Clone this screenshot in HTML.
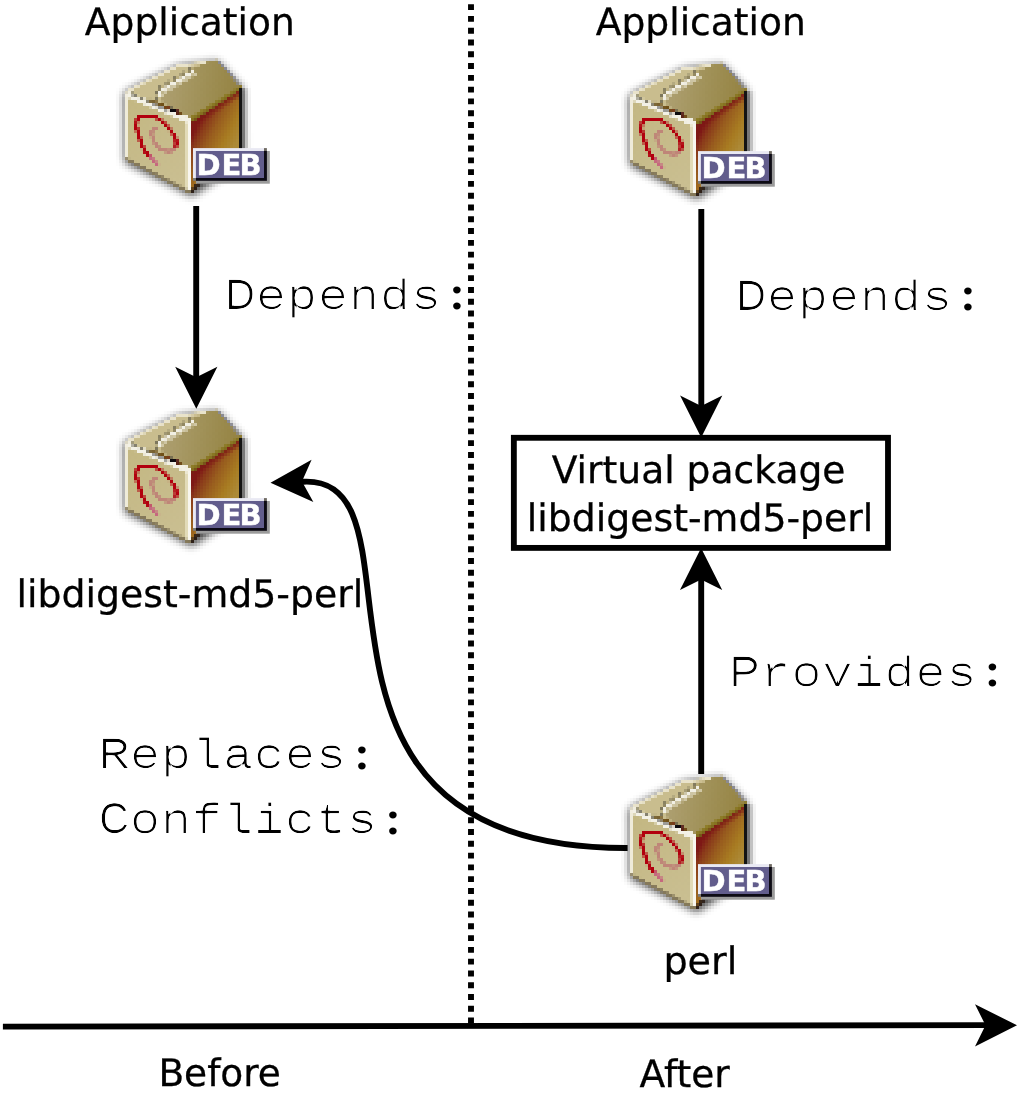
<!DOCTYPE html>
<html lang="en">
<head>
<meta charset="utf-8">
<title>Virtual package: libdigest-md5-perl before and after</title>
<style>
html,body{margin:0;padding:0;background:#fff;}
body{width:1024px;height:1094px;overflow:hidden;}
svg{display:block;will-change:transform;}
</style>
</head>
<body>
<svg width="1024" height="1094" viewBox="0 0 1024 1094">
<defs>
<filter id="sh" x="-20%" y="-20%" width="140%" height="140%"><feGaussianBlur stdDeviation="4"/><feOffset dx="0.4" dy="1.8"/></filter>
<filter id="px" filterUnits="userSpaceOnUse" x="113" y="49" width="165" height="156" color-interpolation-filters="sRGB">
<feGaussianBlur in="SourceGraphic" stdDeviation="0.7" result="avg"/>
<feFlood x="114" y="50" width="1" height="1" flood-color="#000" result="dot"/>
<feComposite in="dot" in2="dot" operator="over" x="113" y="49" width="3" height="3" result="cell"/>
<feTile in="cell" result="grid"/>
<feComposite in="avg" in2="grid" operator="in" result="samp"/>
<feMorphology in="samp" operator="dilate" radius="1" result="blocks"/>
<feGaussianBlur in="blocks" stdDeviation="0.4"/>
</filter>
<filter id="thin" x="-5%" y="-30%" width="110%" height="160%">
<feOffset in="SourceGraphic" dx="1" dy="0" result="a"/>
<feOffset in="SourceGraphic" dx="-1" dy="0" result="b"/>
<feComposite in="a" in2="b" operator="in" result="ab"/>
<feOffset in="ab" dx="0" dy="0.2" result="c"/>
<feOffset in="ab" dx="0" dy="-0.2" result="d"/>
<feComposite in="c" in2="d" operator="in"/>
</filter>
<linearGradient id="flap" gradientUnits="userSpaceOnUse" x1="165" y1="82" x2="238" y2="92">
<stop offset="0" stop-color="#ad9f70"/><stop offset="0.5" stop-color="#a09158"/><stop offset="1" stop-color="#958342"/></linearGradient>
<linearGradient id="olive" gradientUnits="userSpaceOnUse" x1="214" y1="101" x2="217.6" y2="106.6">
<stop offset="0" stop-color="#93822c"/><stop offset="0.55" stop-color="#857220"/><stop offset="1" stop-color="#6e4416"/></linearGradient>
<linearGradient id="side" gradientUnits="userSpaceOnUse" x1="192" y1="116" x2="238" y2="140">
<stop offset="0" stop-color="#7a1414"/><stop offset="0.17" stop-color="#7e1816"/><stop offset="0.3" stop-color="#8a3a1a"/><stop offset="0.5" stop-color="#985c1e"/><stop offset="0.78" stop-color="#a87c22"/><stop offset="1" stop-color="#ac8a38"/></linearGradient>
<linearGradient id="side2" gradientUnits="userSpaceOnUse" x1="215" y1="104.5" x2="220" y2="112">
<stop offset="0" stop-color="#7a1414" stop-opacity="0.95"/><stop offset="0.4" stop-color="#7c1614" stop-opacity="0.7"/><stop offset="1" stop-color="#861e18" stop-opacity="0"/></linearGradient>
<linearGradient id="edgesh" gradientUnits="userSpaceOnUse" x1="242" y1="0" x2="250" y2="0">
<stop offset="0" stop-color="#000" stop-opacity="0.4"/><stop offset="0.5" stop-color="#000" stop-opacity="0.12"/><stop offset="1" stop-color="#000" stop-opacity="0"/></linearGradient>
<linearGradient id="gap" gradientUnits="userSpaceOnUse" x1="150" y1="100.2" x2="181" y2="113.6">
<stop offset="0" stop-color="#7d6a3a"/><stop offset="0.45" stop-color="#6e4c12"/><stop offset="0.6" stop-color="#7a3a1a"/><stop offset="0.66" stop-color="#0c0c10"/><stop offset="0.8" stop-color="#100a0e"/><stop offset="0.86" stop-color="#4a0a10"/><stop offset="1" stop-color="#6e4c12"/></linearGradient>
<linearGradient id="front" gradientUnits="userSpaceOnUse" x1="128" y1="100" x2="188" y2="185">
<stop offset="0" stop-color="#c3b782"/><stop offset="1" stop-color="#cabf92"/></linearGradient>
</defs>
<rect x="0" y="0" width="1024" height="1094" fill="#fff"/>
<text x="84.80" y="34.60" font-family="'DejaVu Sans', 'Liberation Sans', sans-serif" font-size="37.90" fill="#000" stroke="#000" stroke-width="0.3" textLength="210.10" lengthAdjust="spacingAndGlyphs" text-rendering="geometricPrecision">Application</text>
<text x="595.70" y="34.60" font-family="'DejaVu Sans', 'Liberation Sans', sans-serif" font-size="37.90" fill="#000" stroke="#000" stroke-width="0.3" textLength="210.20" lengthAdjust="spacingAndGlyphs" text-rendering="geometricPrecision">Application</text>
<text x="16.60" y="606.60" font-family="'DejaVu Sans', 'Liberation Sans', sans-serif" font-size="37.90" fill="#000" stroke="#000" stroke-width="0.3" textLength="346.70" lengthAdjust="spacingAndGlyphs" text-rendering="geometricPrecision">libdigest-md5-perl</text>
<text x="551.70" y="482.60" font-family="'DejaVu Sans', 'Liberation Sans', sans-serif" font-size="37.90" fill="#000" stroke="#000" stroke-width="0.3" textLength="293.80" lengthAdjust="spacingAndGlyphs" text-rendering="geometricPrecision">Virtual package</text>
<text x="526.80" y="530.60" font-family="'DejaVu Sans', 'Liberation Sans', sans-serif" font-size="37.90" fill="#000" stroke="#000" stroke-width="0.3" textLength="346.50" lengthAdjust="spacingAndGlyphs" text-rendering="geometricPrecision">libdigest-md5-perl</text>
<text x="663.40" y="973.60" font-family="'DejaVu Sans', 'Liberation Sans', sans-serif" font-size="37.90" fill="#000" stroke="#000" stroke-width="0.3" textLength="74.00" lengthAdjust="spacingAndGlyphs" text-rendering="geometricPrecision">perl</text>
<text x="158.40" y="1085.60" font-family="'DejaVu Sans', 'Liberation Sans', sans-serif" font-size="37.90" fill="#000" stroke="#000" stroke-width="0.3" textLength="122.50" lengthAdjust="spacingAndGlyphs" text-rendering="geometricPrecision">Before</text>
<text x="639.50" y="1086.50" font-family="'DejaVu Sans', 'Liberation Sans', sans-serif" font-size="37.90" fill="#000" stroke="#000" stroke-width="0.3" textLength="90.30" lengthAdjust="spacingAndGlyphs" text-rendering="geometricPrecision">After</text>
<g filter="url(#thin)"><text transform="translate(224.50 308.90) scale(1.2126 1)" font-family="'Liberation Mono', 'DejaVu Sans Mono', monospace" font-size="42.60" fill="#000" text-rendering="geometricPrecision"><tspan font-size="44.73" dx="-0.64">D</tspan><tspan dx="-0.64">epends</tspan></text></g><text transform="translate(450.25 308.35) scale(1.1 1)" font-family="'Liberation Serif', 'DejaVu Serif', serif" font-size="43.8" fill="#000" stroke="#000" stroke-width="1.75" text-rendering="geometricPrecision">:</text>
<g filter="url(#thin)"><text transform="translate(735.50 310.00) scale(1.2126 1)" font-family="'Liberation Mono', 'DejaVu Sans Mono', monospace" font-size="42.60" fill="#000" text-rendering="geometricPrecision"><tspan font-size="44.73" dx="-0.64">D</tspan><tspan dx="-0.64">epends</tspan></text></g><text transform="translate(961.25 309.45) scale(1.1 1)" font-family="'Liberation Serif', 'DejaVu Serif', serif" font-size="43.8" fill="#000" stroke="#000" stroke-width="1.75" text-rendering="geometricPrecision">:</text>
<g filter="url(#thin)"><text transform="translate(729.00 685.90) scale(1.2126 1)" font-family="'Liberation Mono', 'DejaVu Sans Mono', monospace" font-size="42.60" fill="#000" text-rendering="geometricPrecision"><tspan font-size="44.73" dx="-0.64">P</tspan><tspan dx="-0.64">rovides</tspan></text></g><text transform="translate(985.75 685.35) scale(1.1 1)" font-family="'Liberation Serif', 'DejaVu Serif', serif" font-size="43.8" fill="#000" stroke="#000" stroke-width="1.75" text-rendering="geometricPrecision">:</text>
<g filter="url(#thin)"><text transform="translate(98.50 768.05) scale(1.2126 1)" font-family="'Liberation Mono', 'DejaVu Sans Mono', monospace" font-size="42.60" fill="#000" text-rendering="geometricPrecision"><tspan font-size="44.73" dx="-0.64">R</tspan><tspan dx="-0.64">eplaces</tspan></text></g><text transform="translate(355.25 767.50) scale(1.1 1)" font-family="'Liberation Serif', 'DejaVu Serif', serif" font-size="43.8" fill="#000" stroke="#000" stroke-width="1.75" text-rendering="geometricPrecision">:</text>
<g filter="url(#thin)"><text transform="translate(98.50 833.10) scale(1.2126 1)" font-family="'Liberation Mono', 'DejaVu Sans Mono', monospace" font-size="42.60" fill="#000" text-rendering="geometricPrecision"><tspan font-size="44.73" dx="-0.64">C</tspan><tspan dx="-0.64">onflicts</tspan></text></g><text transform="translate(386.25 832.55) scale(1.1 1)" font-family="'Liberation Serif', 'DejaVu Serif', serif" font-size="43.8" fill="#000" stroke="#000" stroke-width="1.75" text-rendering="geometricPrecision">:</text>
<line x1="471" y1="4.2" x2="471" y2="1026" stroke="#000" stroke-width="5.9" stroke-dasharray="5.89 5.894"/>
<line x1="2.9" y1="1026.6" x2="986" y2="1025.1" stroke="#000" stroke-width="5.90"/>
<polygon points="1017.00,1025.30 975.00,1046.40 985.50,1025.30 975.00,1004.20" fill="#000"/>
<line x1="196.2" y1="206" x2="196.2" y2="380" stroke="#000" stroke-width="5.90"/>
<polygon points="196.30,408.80 175.20,366.80 196.30,377.30 217.40,366.80" fill="#000"/>
<line x1="701.3" y1="209" x2="701.3" y2="408" stroke="#000" stroke-width="5.90"/>
<polygon points="701.20,437.40 680.10,395.40 701.20,405.90 722.30,395.40" fill="#000"/>
<rect x="513.85" y="437.8" width="374.15" height="110.1" fill="none" stroke="#000" stroke-width="5.85"/>
<line x1="701.2" y1="577" x2="701.2" y2="774" stroke="#000" stroke-width="5.90"/>
<polygon points="701.10,548.00 722.20,590.00 701.10,579.50 680.00,590.00" fill="#000"/>
<path d="M627.6,848 C258.8,849.5 438.8,475.6 303.5,481.7 L299,481.9" fill="none" stroke="#000" stroke-width="5.90"/>
<polygon points="270.50,482.70 311.58,459.86 301.97,481.38 313.35,502.02" fill="#000"/>
<g transform="translate(0 0)"><g filter="url(#px)">
<g filter="url(#sh)" opacity="0.78"><polygon points="124.5,91 145,80 179,63.7 208,60.6 217,59.2 242.5,86.5 243,160 192,194 125,160" fill="#000"/></g>
<polygon points="125,91.3 145.4,80.4 179,64.2 208,61.2 216.8,59.8 241.3,86.5 190.3,121" fill="#c9bd8e"/>
<path d="M126,92 L145.6,81.6 L179.3,65.5 L208,62.5" fill="none" stroke="#e9e3cb" stroke-width="2.6"/>
<polygon points="157,90 192.5,68.5 208,61.8 216.8,59.8 241.3,86.5 190.3,118 163,103" fill="url(#flap)"/>
<line x1="217.5" y1="60.2" x2="241" y2="86" stroke="#8b8b93" stroke-width="2.2"/>
<polygon points="190.5,121 240.5,87.5 240.5,182 200,182 191.3,192.8 190.5,192" fill="url(#side)"/>
<polygon points="190.5,121 240.5,87.5 240.5,97 190.5,131" fill="url(#side2)"/>
<polygon points="190.5,116.8 240.8,85.6 240.8,89.6 190.5,123.4" fill="url(#olive)"/>
<rect x="242" y="89" width="8" height="60" fill="url(#edgesh)"/>
<rect x="239" y="88.5" width="3" height="62" fill="#131313"/>
<path d="M160.5,96.5 L159.7,91.7 L194.5,70.8" fill="none" stroke="#f1efe4" stroke-width="3.2"/>
<path d="M162.6,98 L162.8,93.6 L196,73.6" fill="none" stroke="#cfc6a4" stroke-width="2.4"/>
<path d="M157.3,99 L156,90 L192.5,68" fill="none" stroke="#7d775c" stroke-width="3" stroke-dasharray="3.2 2.6"/>
<polygon points="125,93 190,120 191,192.5 125,158.3" fill="url(#front)"/>
<polygon points="125,93 128,94.3 128,160 125,158.3" fill="#efebd9"/>
<polygon points="184.5,117.8 188,119.2 188,191 184.5,189.2" fill="#e2dbb8"/>
<polygon points="187.6,119.2 191,120.5 191,192.6 187.6,191" fill="#f8f6ee"/>
<line x1="127" y1="94.2" x2="190" y2="120.8" stroke="#f3f1e6" stroke-width="6"/>
<line x1="131.5" y1="93.6" x2="152" y2="102.3" stroke="#85816f" stroke-width="2.8" stroke-dasharray="5 3.4"/>
<line x1="150" y1="100.2" x2="181" y2="113.6" stroke="url(#gap)" stroke-width="3.4"/>
<line x1="153" y1="104.3" x2="168" y2="110.7" stroke="#9b9b98" stroke-width="2.4"/>
<line x1="126" y1="158.8" x2="190.5" y2="192.6" stroke="#85795a" stroke-width="3"/>
<line x1="191" y1="192.4" x2="200" y2="182" stroke="#2e2018" stroke-width="3"/>
<path d="M150.5,157.5 C144,151 140.5,143 139.5,137 C137.5,131 135.5,127 136.3,123 C137,118 139.5,115.8 144,115.8 L153.5,116 C157,116.8 161,120.5 164,123.5 C168,127.5 173,132 175.3,137.3 C176.4,140.5 176.6,145 175,148.7" fill="none" stroke="#b2000e" stroke-width="3.7"/>
<path d="M175.6,147.5 C173,152 168,151.5 164,150.5 C160,149.5 157,147 155,143 C152.5,138.5 150.5,133 152.5,130 C154,127.5 156,127.5 158.5,128" fill="none" stroke="#bf8578" stroke-width="3.6"/>
<path d="M149.5,156.5 L157.5,165" fill="none" stroke="#c5687e" stroke-width="3.4" stroke-linecap="round"/>
</g>
<rect x="195.9" y="151" width="73.9" height="32.7" fill="#9b9b9b"/>
<rect x="195.9" y="151" width="71" height="29.8" fill="#0d0b14"/>
<rect x="193" y="178" width="2.9" height="2.8" fill="#7c7c7c"/>
<rect x="264" y="148.1" width="2.9" height="2.9" fill="#6f6a62"/>
<rect x="193" y="148.1" width="71" height="29.9" fill="#e9e9f3"/>
<rect x="195.9" y="151" width="68.1" height="27" fill="#625d8c"/>
<text x="196.4 221.5 239.5" y="175.1" font-family="'DejaVu Sans', 'Liberation Sans', sans-serif" font-weight="bold" font-size="29" fill="#fff" stroke="#fff" stroke-width="0.4">DEB</text>
</g>
<g transform="translate(505 3)"><g filter="url(#px)">
<g filter="url(#sh)" opacity="0.78"><polygon points="124.5,91 145,80 179,63.7 208,60.6 217,59.2 242.5,86.5 243,160 192,194 125,160" fill="#000"/></g>
<polygon points="125,91.3 145.4,80.4 179,64.2 208,61.2 216.8,59.8 241.3,86.5 190.3,121" fill="#c9bd8e"/>
<path d="M126,92 L145.6,81.6 L179.3,65.5 L208,62.5" fill="none" stroke="#e9e3cb" stroke-width="2.6"/>
<polygon points="157,90 192.5,68.5 208,61.8 216.8,59.8 241.3,86.5 190.3,118 163,103" fill="url(#flap)"/>
<line x1="217.5" y1="60.2" x2="241" y2="86" stroke="#8b8b93" stroke-width="2.2"/>
<polygon points="190.5,121 240.5,87.5 240.5,182 200,182 191.3,192.8 190.5,192" fill="url(#side)"/>
<polygon points="190.5,121 240.5,87.5 240.5,97 190.5,131" fill="url(#side2)"/>
<polygon points="190.5,116.8 240.8,85.6 240.8,89.6 190.5,123.4" fill="url(#olive)"/>
<rect x="242" y="89" width="8" height="60" fill="url(#edgesh)"/>
<rect x="239" y="88.5" width="3" height="62" fill="#131313"/>
<path d="M160.5,96.5 L159.7,91.7 L194.5,70.8" fill="none" stroke="#f1efe4" stroke-width="3.2"/>
<path d="M162.6,98 L162.8,93.6 L196,73.6" fill="none" stroke="#cfc6a4" stroke-width="2.4"/>
<path d="M157.3,99 L156,90 L192.5,68" fill="none" stroke="#7d775c" stroke-width="3" stroke-dasharray="3.2 2.6"/>
<polygon points="125,93 190,120 191,192.5 125,158.3" fill="url(#front)"/>
<polygon points="125,93 128,94.3 128,160 125,158.3" fill="#efebd9"/>
<polygon points="184.5,117.8 188,119.2 188,191 184.5,189.2" fill="#e2dbb8"/>
<polygon points="187.6,119.2 191,120.5 191,192.6 187.6,191" fill="#f8f6ee"/>
<line x1="127" y1="94.2" x2="190" y2="120.8" stroke="#f3f1e6" stroke-width="6"/>
<line x1="131.5" y1="93.6" x2="152" y2="102.3" stroke="#85816f" stroke-width="2.8" stroke-dasharray="5 3.4"/>
<line x1="150" y1="100.2" x2="181" y2="113.6" stroke="url(#gap)" stroke-width="3.4"/>
<line x1="153" y1="104.3" x2="168" y2="110.7" stroke="#9b9b98" stroke-width="2.4"/>
<line x1="126" y1="158.8" x2="190.5" y2="192.6" stroke="#85795a" stroke-width="3"/>
<line x1="191" y1="192.4" x2="200" y2="182" stroke="#2e2018" stroke-width="3"/>
<path d="M150.5,157.5 C144,151 140.5,143 139.5,137 C137.5,131 135.5,127 136.3,123 C137,118 139.5,115.8 144,115.8 L153.5,116 C157,116.8 161,120.5 164,123.5 C168,127.5 173,132 175.3,137.3 C176.4,140.5 176.6,145 175,148.7" fill="none" stroke="#b2000e" stroke-width="3.7"/>
<path d="M175.6,147.5 C173,152 168,151.5 164,150.5 C160,149.5 157,147 155,143 C152.5,138.5 150.5,133 152.5,130 C154,127.5 156,127.5 158.5,128" fill="none" stroke="#bf8578" stroke-width="3.6"/>
<path d="M149.5,156.5 L157.5,165" fill="none" stroke="#c5687e" stroke-width="3.4" stroke-linecap="round"/>
</g>
<rect x="195.9" y="151" width="73.9" height="32.7" fill="#9b9b9b"/>
<rect x="195.9" y="151" width="71" height="29.8" fill="#0d0b14"/>
<rect x="193" y="178" width="2.9" height="2.8" fill="#7c7c7c"/>
<rect x="264" y="148.1" width="2.9" height="2.9" fill="#6f6a62"/>
<rect x="193" y="148.1" width="71" height="29.9" fill="#e9e9f3"/>
<rect x="195.9" y="151" width="68.1" height="27" fill="#625d8c"/>
<text x="196.4 221.5 239.5" y="175.1" font-family="'DejaVu Sans', 'Liberation Sans', sans-serif" font-weight="bold" font-size="29" fill="#fff" stroke="#fff" stroke-width="0.4">DEB</text>
</g>
<g transform="translate(0 350)"><g filter="url(#px)">
<g filter="url(#sh)" opacity="0.78"><polygon points="124.5,91 145,80 179,63.7 208,60.6 217,59.2 242.5,86.5 243,160 192,194 125,160" fill="#000"/></g>
<polygon points="125,91.3 145.4,80.4 179,64.2 208,61.2 216.8,59.8 241.3,86.5 190.3,121" fill="#c9bd8e"/>
<path d="M126,92 L145.6,81.6 L179.3,65.5 L208,62.5" fill="none" stroke="#e9e3cb" stroke-width="2.6"/>
<polygon points="157,90 192.5,68.5 208,61.8 216.8,59.8 241.3,86.5 190.3,118 163,103" fill="url(#flap)"/>
<line x1="217.5" y1="60.2" x2="241" y2="86" stroke="#8b8b93" stroke-width="2.2"/>
<polygon points="190.5,121 240.5,87.5 240.5,182 200,182 191.3,192.8 190.5,192" fill="url(#side)"/>
<polygon points="190.5,121 240.5,87.5 240.5,97 190.5,131" fill="url(#side2)"/>
<polygon points="190.5,116.8 240.8,85.6 240.8,89.6 190.5,123.4" fill="url(#olive)"/>
<rect x="242" y="89" width="8" height="60" fill="url(#edgesh)"/>
<rect x="239" y="88.5" width="3" height="62" fill="#131313"/>
<path d="M160.5,96.5 L159.7,91.7 L194.5,70.8" fill="none" stroke="#f1efe4" stroke-width="3.2"/>
<path d="M162.6,98 L162.8,93.6 L196,73.6" fill="none" stroke="#cfc6a4" stroke-width="2.4"/>
<path d="M157.3,99 L156,90 L192.5,68" fill="none" stroke="#7d775c" stroke-width="3" stroke-dasharray="3.2 2.6"/>
<polygon points="125,93 190,120 191,192.5 125,158.3" fill="url(#front)"/>
<polygon points="125,93 128,94.3 128,160 125,158.3" fill="#efebd9"/>
<polygon points="184.5,117.8 188,119.2 188,191 184.5,189.2" fill="#e2dbb8"/>
<polygon points="187.6,119.2 191,120.5 191,192.6 187.6,191" fill="#f8f6ee"/>
<line x1="127" y1="94.2" x2="190" y2="120.8" stroke="#f3f1e6" stroke-width="6"/>
<line x1="131.5" y1="93.6" x2="152" y2="102.3" stroke="#85816f" stroke-width="2.8" stroke-dasharray="5 3.4"/>
<line x1="150" y1="100.2" x2="181" y2="113.6" stroke="url(#gap)" stroke-width="3.4"/>
<line x1="153" y1="104.3" x2="168" y2="110.7" stroke="#9b9b98" stroke-width="2.4"/>
<line x1="126" y1="158.8" x2="190.5" y2="192.6" stroke="#85795a" stroke-width="3"/>
<line x1="191" y1="192.4" x2="200" y2="182" stroke="#2e2018" stroke-width="3"/>
<path d="M150.5,157.5 C144,151 140.5,143 139.5,137 C137.5,131 135.5,127 136.3,123 C137,118 139.5,115.8 144,115.8 L153.5,116 C157,116.8 161,120.5 164,123.5 C168,127.5 173,132 175.3,137.3 C176.4,140.5 176.6,145 175,148.7" fill="none" stroke="#b2000e" stroke-width="3.7"/>
<path d="M175.6,147.5 C173,152 168,151.5 164,150.5 C160,149.5 157,147 155,143 C152.5,138.5 150.5,133 152.5,130 C154,127.5 156,127.5 158.5,128" fill="none" stroke="#bf8578" stroke-width="3.6"/>
<path d="M149.5,156.5 L157.5,165" fill="none" stroke="#c5687e" stroke-width="3.4" stroke-linecap="round"/>
</g>
<rect x="195.9" y="151" width="73.9" height="32.7" fill="#9b9b9b"/>
<rect x="195.9" y="151" width="71" height="29.8" fill="#0d0b14"/>
<rect x="193" y="178" width="2.9" height="2.8" fill="#7c7c7c"/>
<rect x="264" y="148.1" width="2.9" height="2.9" fill="#6f6a62"/>
<rect x="193" y="148.1" width="71" height="29.9" fill="#e9e9f3"/>
<rect x="195.9" y="151" width="68.1" height="27" fill="#625d8c"/>
<text x="196.4 221.5 239.5" y="175.1" font-family="'DejaVu Sans', 'Liberation Sans', sans-serif" font-weight="bold" font-size="29" fill="#fff" stroke="#fff" stroke-width="0.4">DEB</text>
</g>
<g transform="translate(505 716)"><g filter="url(#px)">
<g filter="url(#sh)" opacity="0.78"><polygon points="124.5,91 145,80 179,63.7 208,60.6 217,59.2 242.5,86.5 243,160 192,194 125,160" fill="#000"/></g>
<polygon points="125,91.3 145.4,80.4 179,64.2 208,61.2 216.8,59.8 241.3,86.5 190.3,121" fill="#c9bd8e"/>
<path d="M126,92 L145.6,81.6 L179.3,65.5 L208,62.5" fill="none" stroke="#e9e3cb" stroke-width="2.6"/>
<polygon points="157,90 192.5,68.5 208,61.8 216.8,59.8 241.3,86.5 190.3,118 163,103" fill="url(#flap)"/>
<line x1="217.5" y1="60.2" x2="241" y2="86" stroke="#8b8b93" stroke-width="2.2"/>
<polygon points="190.5,121 240.5,87.5 240.5,182 200,182 191.3,192.8 190.5,192" fill="url(#side)"/>
<polygon points="190.5,121 240.5,87.5 240.5,97 190.5,131" fill="url(#side2)"/>
<polygon points="190.5,116.8 240.8,85.6 240.8,89.6 190.5,123.4" fill="url(#olive)"/>
<rect x="242" y="89" width="8" height="60" fill="url(#edgesh)"/>
<rect x="239" y="88.5" width="3" height="62" fill="#131313"/>
<path d="M160.5,96.5 L159.7,91.7 L194.5,70.8" fill="none" stroke="#f1efe4" stroke-width="3.2"/>
<path d="M162.6,98 L162.8,93.6 L196,73.6" fill="none" stroke="#cfc6a4" stroke-width="2.4"/>
<path d="M157.3,99 L156,90 L192.5,68" fill="none" stroke="#7d775c" stroke-width="3" stroke-dasharray="3.2 2.6"/>
<polygon points="125,93 190,120 191,192.5 125,158.3" fill="url(#front)"/>
<polygon points="125,93 128,94.3 128,160 125,158.3" fill="#efebd9"/>
<polygon points="184.5,117.8 188,119.2 188,191 184.5,189.2" fill="#e2dbb8"/>
<polygon points="187.6,119.2 191,120.5 191,192.6 187.6,191" fill="#f8f6ee"/>
<line x1="127" y1="94.2" x2="190" y2="120.8" stroke="#f3f1e6" stroke-width="6"/>
<line x1="131.5" y1="93.6" x2="152" y2="102.3" stroke="#85816f" stroke-width="2.8" stroke-dasharray="5 3.4"/>
<line x1="150" y1="100.2" x2="181" y2="113.6" stroke="url(#gap)" stroke-width="3.4"/>
<line x1="153" y1="104.3" x2="168" y2="110.7" stroke="#9b9b98" stroke-width="2.4"/>
<line x1="126" y1="158.8" x2="190.5" y2="192.6" stroke="#85795a" stroke-width="3"/>
<line x1="191" y1="192.4" x2="200" y2="182" stroke="#2e2018" stroke-width="3"/>
<path d="M150.5,157.5 C144,151 140.5,143 139.5,137 C137.5,131 135.5,127 136.3,123 C137,118 139.5,115.8 144,115.8 L153.5,116 C157,116.8 161,120.5 164,123.5 C168,127.5 173,132 175.3,137.3 C176.4,140.5 176.6,145 175,148.7" fill="none" stroke="#b2000e" stroke-width="3.7"/>
<path d="M175.6,147.5 C173,152 168,151.5 164,150.5 C160,149.5 157,147 155,143 C152.5,138.5 150.5,133 152.5,130 C154,127.5 156,127.5 158.5,128" fill="none" stroke="#bf8578" stroke-width="3.6"/>
<path d="M149.5,156.5 L157.5,165" fill="none" stroke="#c5687e" stroke-width="3.4" stroke-linecap="round"/>
</g>
<rect x="195.9" y="151" width="73.9" height="32.7" fill="#9b9b9b"/>
<rect x="195.9" y="151" width="71" height="29.8" fill="#0d0b14"/>
<rect x="193" y="178" width="2.9" height="2.8" fill="#7c7c7c"/>
<rect x="264" y="148.1" width="2.9" height="2.9" fill="#6f6a62"/>
<rect x="193" y="148.1" width="71" height="29.9" fill="#e9e9f3"/>
<rect x="195.9" y="151" width="68.1" height="27" fill="#625d8c"/>
<text x="196.4 221.5 239.5" y="175.1" font-family="'DejaVu Sans', 'Liberation Sans', sans-serif" font-weight="bold" font-size="29" fill="#fff" stroke="#fff" stroke-width="0.4">DEB</text>
</g>
</svg>
</body>
</html>
